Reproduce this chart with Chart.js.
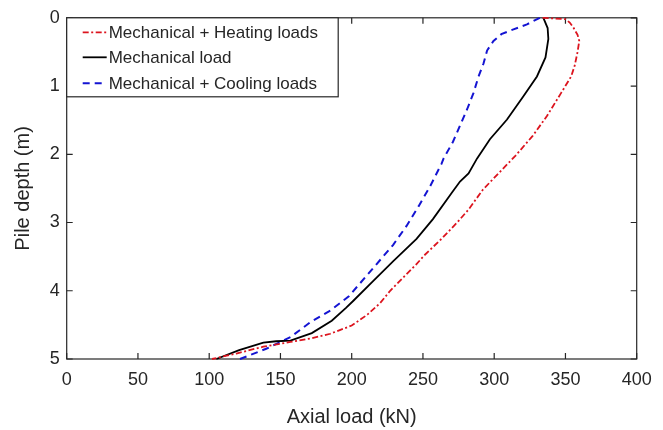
<!DOCTYPE html>
<html><head><meta charset="utf-8">
<script src="https://cdn.jsdelivr.net/npm/chart.js@4/dist/chart.umd.min.js"></script>
<style>html,body{margin:0;padding:0;background:#fff;}</style>
</head><body>
<canvas id="c" width="663" height="430" style="width:663px;height:430px;display:block"></canvas>
<script>
// ---- data ----
const xTickValues = [0, 50, 100, 150, 200, 250, 300, 350, 400];
const yTickValues = [0, 1, 2, 3, 4, 5];
const seriesLabels = ['Mechanical + Heating loads', 'Mechanical load', 'Mechanical + Cooling loads'];

const heatingDepth = [0, 0.01, 0.02, 0.07, 0.14, 0.25, 0.34, 0.5, 0.7, 0.86, 1.1, 1.44, 1.73, 2.02, 2.28, 2.52, 2.81, 3.0, 3.24, 3.48, 3.62, 4.0, 4.18, 4.35, 4.51, 4.63, 4.70, 4.75, 4.82, 4.92, 5.0];
const heatingLoad  = [334, 342, 350, 353, 355.5, 358.5, 359.7, 358.5, 356.5, 354, 347, 337, 327, 315, 303, 292, 282, 274, 263, 251, 245, 227, 220, 211, 200, 185, 171, 157, 138, 119, 102];

const mechDepth = [0, 0.15, 0.31, 0.58, 0.86, 1.15, 1.49, 1.78, 2.06, 2.28, 2.40, 2.57, 2.95, 3.24, 3.57, 3.86, 4.15, 4.25, 4.44, 4.62, 4.73, 4.74, 4.76, 4.87, 5.0];
const mechLoad  = [334.5, 337.5, 338, 336, 330, 320.5, 309, 297, 288, 282, 276, 270, 257, 245.5, 229, 215, 201, 196, 186, 172, 157, 147, 138, 121, 105];

const coolingDepth = [0, 0.096, 0.17, 0.24, 0.34, 0.48, 0.67, 0.86, 1.10, 1.34, 1.58, 1.82, 2.06, 2.14, 2.47, 2.76, 3.05, 3.33, 3.67, 4.08, 4.29, 4.46, 4.68, 4.85, 5.0];
const coolingLoad  = [332, 323, 313.5, 305, 299.5, 295, 292.5, 289, 285.5, 281, 276, 271, 264.5, 263, 255, 247, 238.5, 229, 215, 198, 185, 171, 157, 140, 121.6];

// ---- helpers ----
const toPoints = (loads, depths) => loads.map((v, i) => ({ x: v, y: depths[i] }));
const AX = '#262626';
const FONT = '"Liberation Sans", Arial, Helvetica, sans-serif';

const boxPlugin = {
  id: 'boxTicks',
  beforeDatasetsDraw(chart) {
    const { ctx, chartArea: a, scales: { x, y } } = chart;
    ctx.save();
    ctx.strokeStyle = AX;
    ctx.lineWidth = 1.2;
    ctx.strokeRect(a.left, a.top, a.right - a.left, a.bottom - a.top);
    const L = 6;
    ctx.beginPath();
    xTickValues.forEach(v => {
      const p = x.getPixelForValue(v);
      ctx.moveTo(p, a.bottom); ctx.lineTo(p, a.bottom - L);
      ctx.moveTo(p, a.top); ctx.lineTo(p, a.top + L);
    });
    yTickValues.forEach(v => {
      const p = y.getPixelForValue(v);
      ctx.moveTo(a.left, p); ctx.lineTo(a.left + L, p);
      ctx.moveTo(a.right, p); ctx.lineTo(a.right - L, p);
    });
    ctx.stroke();
    ctx.restore();
  },
  afterDatasetsDraw(chart) {
    const { ctx, chartArea: a } = chart;
    const bx = a.left, by = a.top, bw = 271.5, bh = 79;
    ctx.save();
    ctx.fillStyle = '#fff';
    ctx.fillRect(bx, by, bw, bh);
    ctx.strokeStyle = AX;
    ctx.lineWidth = 1.2;
    ctx.strokeRect(bx, by, bw, bh);
    const rows = [by + 14.5, by + 39.5, by + 65.5];
    ctx.font = '17px ' + FONT;
    ctx.textBaseline = 'middle';
    ctx.textAlign = 'left';
    chart.data.datasets.forEach((ds, i) => {
      const yy = rows[i];
      ctx.strokeStyle = ds.borderColor;
      ctx.lineWidth = ds.borderWidth;
      ctx.setLineDash(ds.borderDash || []);
      ctx.beginPath();
      ctx.moveTo(bx + 16, yy); ctx.lineTo(bx + 40, yy);
      ctx.stroke();
      ctx.setLineDash([]);
      ctx.fillStyle = AX;
      ctx.fillText(ds.label, bx + 42, yy + 1);
    });
    ctx.restore();
  }
};

new Chart(document.getElementById('c'), {
  type: 'scatter',
  data: {
    datasets: [
      { label: seriesLabels[0], data: toPoints(heatingLoad, heatingDepth), showLine: true,
        borderColor: 'rgb(220,20,30)', borderWidth: 1.8, borderDash: [6, 2.5, 2, 2.5],
        pointRadius: 0, tension: 0, clip: false },
      { label: seriesLabels[1], data: toPoints(mechLoad, mechDepth), showLine: true,
        borderColor: '#000000', borderWidth: 1.8,
        pointRadius: 0, tension: 0, clip: false },
      { label: seriesLabels[2], data: toPoints(coolingLoad, coolingDepth), showLine: true,
        borderColor: 'rgb(20,20,210)', borderWidth: 2, borderDash: [7, 5],
        pointRadius: 0, tension: 0, clip: false }
    ]
  },
  options: {
    responsive: false,
    devicePixelRatio: 1,
    animation: false,
    layout: { padding: { top: 11.7, right: 26.3, left: 0, bottom: 0 } },
    plugins: { legend: { display: false }, tooltip: { enabled: false } },
    scales: {
      x: {
        type: 'linear', min: 0, max: 400,
        afterFit: s => { s.height = 71; },
        afterBuildTicks: s => { s.ticks = xTickValues.map(v => ({ value: v })); },
        grid: { display: false, drawTicks: false },
        border: { display: false },
        ticks: { color: AX, font: { family: FONT, size: 18 }, padding: 10, maxRotation: 0 },
        title: { display: true, text: 'Axial load (kN)', color: AX, font: { family: FONT, size: 20 }, padding: { top: 0, bottom: 1 } }
      },
      y: {
        type: 'linear', min: 0, max: 5, reverse: true,
        afterFit: s => { s.width = 66.7; },
        afterBuildTicks: s => { s.ticks = yTickValues.map(v => ({ value: v })); },
        grid: { display: false, drawTicks: false },
        border: { display: false },
        ticks: { color: AX, font: { family: FONT, size: 18 }, padding: 7 },
        title: { display: true, text: 'Pile depth (m)', color: AX, font: { family: FONT, size: 20 }, padding: { top: 11, bottom: 0 } }
      }
    }
  },
  plugins: [boxPlugin]
});
</script>
</body></html>
